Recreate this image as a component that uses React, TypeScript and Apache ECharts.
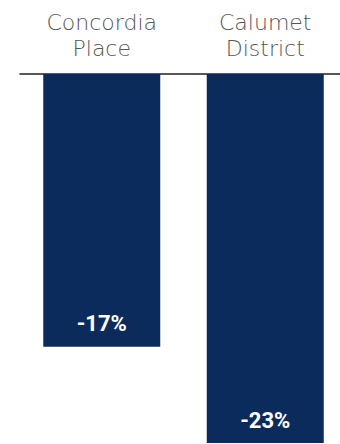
import React, { useEffect, useRef } from "react";
import * as echarts from "echarts";

const categories = ["Concordia\nPlace", "Calumet\nDistrict"];
const values = [-17, -23];

export default function App() {
  const ref = useRef<HTMLDivElement>(null);
  useEffect(() => {
    const chart = echarts.init(ref.current!, null, { renderer: "svg" });
    chart.setOption({
      animation: false,
      grid: { left: 20, top: 74, width: 327, height: 369, outerBoundsMode: "none", containLabel: false },
      xAxis: {
        type: "category",
        position: "top",
        data: categories,
        axisLine: { lineStyle: { color: "#222", width: 1.5 } },
        axisTick: { show: false },
        axisLabel: {
          color: "#555555",
          fontFamily: "DejaVu Sans",
          fontWeight: 200,
          fontSize: 22,
          lineHeight: 26,
          margin: 13,
        },
      },
      yAxis: {
        type: "value",
        min: -23,
        max: 0,
        show: false,
      },
      series: [
        {
          type: "bar",
          data: values,
          barWidth: 117,
          itemStyle: { color: "#0b2b5c" },
          label: {
            show: true,
            position: "insideBottom",
            distance: 12,
            formatter: (p: any) => `${p.value}%`,
            color: "#ffffff",
            fontFamily: "Roboto",
            fontWeight: "bold",
            fontSize: 22,
          },
        },
      ],
    });
    return () => chart.dispose();
  }, []);
  return <div ref={ref} style={{ width: 340, height: 444, position: "absolute", left: 0, top: 0 }} />;
}
